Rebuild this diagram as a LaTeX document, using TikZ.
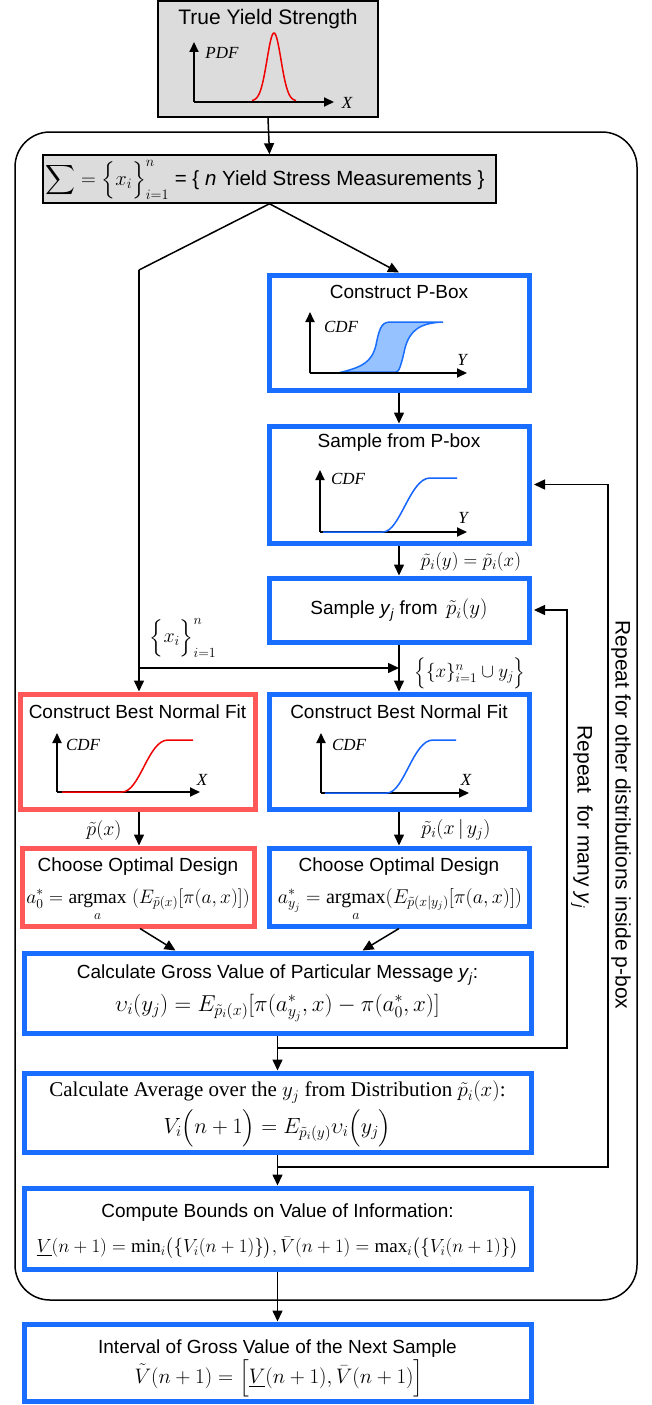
\RequirePackage{fix-cm}
\documentclass[tikz,border=0pt]{standalone}
\usepackage{amsmath}
\usepackage{fontspec}
\setmainfont{Liberation Sans}
\newfontfamily\tnr{Liberation Serif}
\newcommand{\tnop}[1]{\mathop{\text{\tnr #1}}}
\usetikzlibrary{arrows.meta}
\definecolor{bluebd}{RGB}{25,110,255}
\definecolor{redbd}{RGB}{255,88,88}
\definecolor{curvered}{RGB}{240,0,0}
\definecolor{curveblue}{RGB}{20,100,255}
\definecolor{grayfill}{RGB}{220,220,220}
\definecolor{pboxfill}{RGB}{150,195,255}
\begin{document}
\begin{tikzpicture}[x=1pt,y=-1pt,
  ln/.style={line width=1.5pt},
  arr/.style={ln,-{Triangle[length=11pt,width=10pt]}},
  axis/.style={line width=2pt,-{Triangle[length=10pt,width=9pt]}},
  graybox/.style={draw=black,line width=1.5pt,fill=grayfill,inner sep=0pt},
  bluebox/.style={draw=bluebd,line width=5pt,fill=white,inner sep=0pt},
  redbox/.style={draw=redbd,line width=5pt,fill=white,inner sep=0pt},
  ttl/.style={font=\fontsize{19}{22}\selectfont,inner sep=0pt},
  fml/.style={font=\fontsize{21}{25}\selectfont,inner sep=0pt},
  lbl/.style={font=\fontsize{19}{22}\selectfont,inner sep=0pt},
  axlbl/.style={font=\fontsize{17}{20}\selectfont\tnr\itshape,inner sep=0pt},
  rot/.style={font=\fontsize{21}{25}\selectfont,rotate=-90,inner sep=0pt}
]
\useasboundingbox (0,0) rectangle (651,1405);

% outer frame
\node[draw,ln,rounded corners=35pt,minimum width=622pt,minimum height=1168pt] (frame) at (326,716) {};

% boxes
\node[graybox,minimum width=220pt,minimum height=116pt] (top) at (268,59) {};
\node[graybox,minimum width=453pt,minimum height=48pt] (sigma) at (269.5,179) {};
\node[bluebox,minimum width=260pt,minimum height=115pt] (pbox) at (399,332.5) {};
\node[bluebox,minimum width=260pt,minimum height=117pt] (sampbox) at (399,484.5) {};
\node[bluebox,minimum width=260pt,minimum height=64pt] (yjbox) at (399,610) {};
\node[redbox,minimum width=235pt,minimum height=115pt] (fitL) at (137.5,751.5) {};
\node[bluebox,minimum width=260pt,minimum height=115pt] (fitR) at (399,751.5) {};
\node[redbox,minimum width=232pt,minimum height=78pt] (chooseL) at (138,887) {};
\node[bluebox,minimum width=260pt,minimum height=78pt] (chooseR) at (399,887) {};
\node[bluebox,minimum width=507pt,minimum height=80pt] (gross) at (277.5,993) {};
\node[bluebox,minimum width=507pt,minimum height=79pt] (avg) at (277.5,1112.5) {};
\node[bluebox,minimum width=507pt,minimum height=81pt] (bounds) at (277.5,1228.5) {};
\node[bluebox,minimum width=507pt,minimum height=77pt] (final) at (277.5,1362.5) {};

% top box content
\node[font=\fontsize{21}{25}\selectfont,inner sep=0pt] (ttop) at (268,19) {True Yield Strength};
\draw[axis] (194,102) -- (194,42);
\draw[axis] (194,102) -- (334,102);
\draw[curvered,line width=1.5pt] plot[domain=252:296,samples=60,smooth] (\x,{101-68*exp(-((\x-274)^2)/98)});
\node[axlbl] (pdf) at (222,53) {PDF};
\node[axlbl] (xt) at (347,103) {X};

% sigma text
\node[font=\fontsize{20.5}{24}\selectfont,inner sep=0pt] (tsig) at (265,180) {$\displaystyle\sum=\Bigl\{x_i\Bigr\}_{i=1}^{n}$ = \{ \textit{n} Yield Stress Measurements \}};

% p-box
\node[ttl] (tpbox) at (399,292) {Construct P-Box};
\filldraw[draw=bluebd,fill=pboxfill,line width=1.5pt] (342,372) .. controls (362,367) and (372,362) .. (376,345) .. controls (380,324) and (383,322) .. (392,322) -- (443,322) .. controls (420,323) and (410,330) .. (405,348) .. controls (401,366) and (399,372) .. (396,372) -- cycle;
\draw[axis] (310,373) -- (310,312);
\draw[axis] (310,373) -- (467,373);
\node[axlbl] (cdf1) at (341,327) {CDF};
\node[axlbl] (y1) at (462,360) {Y};

% sample from p-box
\node[ttl] (tsamp) at (399,443) {Sample from P-box};
\draw[axis] (320,532) -- (320,470);
\draw[axis] (320,532) -- (467,532);
\draw[curveblue,line width=1.5pt] (323,532) -- (383,532) .. controls (400,532) and (410,478) .. (430,478) -- (457,478);
\node[axlbl] (cdf2) at (348,479) {CDF};
\node[axlbl] (y2) at (463,518) {Y};

% sample y_j
\node[ttl] (tyj) at (399,610) {Sample \textit{y}\textsubscript{\textit{j}} from \,{\fontsize{21}{24}\selectfont$\tilde{p}_i(y)$}};

% fits
\node[ttl] (tfitL) at (137.5,712) {Construct Best Normal Fit};
\draw[axis] (57,792) -- (57,733);
\draw[axis] (57,792) -- (200,792);
\draw[curvered,line width=1.5pt] (62,792) -- (122,792) .. controls (140,792) and (148,740) .. (168,740) -- (193,740);
\node[axlbl] (cdf3) at (83,745) {CDF};
\node[axlbl] (x3) at (202,780) {X};

\node[ttl] (tfitR) at (399,712) {Construct Best Normal Fit};
\draw[axis] (321,793) -- (321,733);
\draw[axis] (321,793) -- (469,793);
\draw[curveblue,line width=1.5pt] (325,793) -- (387,793) .. controls (404,793) and (413,740) .. (433,740) -- (456,740);
\node[axlbl] (cdf4) at (349,745) {CDF};
\node[axlbl] (x4) at (466,780) {X};

% choose
\node[ttl] (tchL) at (138,867) {Choose Optimal Design};
\node[fml,font=\fontsize{19.5}{23}\selectfont,anchor=base] (fchL) at (138,903) {$a_0^*=\tnop{argmax}\limits_{a}\ (E_{\tilde{p}(x)}[\pi(a,x)])$};
\node[ttl] (tchR) at (399,867) {Choose Optimal Design};
\node[fml,font=\fontsize{20}{23}\selectfont,anchor=base] (fchR) at (400,903) {$a_{y_j}^*=\tnop{argmax}\limits_{a}(E_{\tilde{p}(x|y_j)}[\pi(a,x)])$};

% gross
\node[ttl] (tgross) at (277.5,975) {Calculate Gross Value of Particular Message \textit{y}\textsubscript{\textit{j}}:};
\node[fml,font=\fontsize{23}{27}\selectfont,anchor=base] (fgross) at (277.5,1011) {$\upsilon_i(y_j)=E_{\tilde{p}_i(x)}[\pi(a_{y_j}^*,x)-\pi(a_0^*,x)]$};

% average
\node[inner sep=0pt,font=\fontsize{21}{24}\selectfont\tnr] (tavg) at (277.5,1092) {Calculate Average over the $y_j$ from Distribution $\tilde{p}_i(x)$:};
\node[fml,font=\fontsize{22}{26}\selectfont] (favg) at (277.5,1128) {$V_i\Bigl(n+1\Bigr)=E_{\tilde{p}_i(y)}\upsilon_i\Bigl(y_j\Bigr)$};

% bounds
\node[ttl] (tbnd) at (277.5,1213) {Compute Bounds on Value of Information:};
\node[fml,font=\fontsize{19}{24}\selectfont] (fbnd) at (277.5,1248) {$\underline{V}(n+1)=\tnop{min}\nolimits_i\bigl(\{V_i(n+1)\}\bigr),\bar{V}(n+1)=\tnop{max}\nolimits_i\bigl(\{V_i(n+1)\}\bigr)$};

% final
\node[ttl] (tfin) at (277.5,1349) {Interval of Gross Value of the Next Sample};
\node[fml,font=\fontsize{21}{25}\selectfont] (ffin) at (279,1378) {$\tilde{V}(n+1)=\Bigl[\underline{V}(n+1),\bar{V}(n+1)\Bigr]$};

% labels
\node[lbl] (lab1) at (471,562) {$\tilde{p}_i(y)=\tilde{p}_i(x)$};
\node[lbl,font=\fontsize{20}{24}\selectfont] (lab2) at (183,638) {$\Bigl\{x_i\Bigr\}_{i=1}^{n}$};
\node[lbl] (lab3) at (470,673) {$\Bigl\{\{x\}_{i=1}^{n}\cup y_j\Bigr\}$};
\node[lbl,font=\fontsize{20}{24}\selectfont] (lab4) at (104,830) {$\tilde{p}(x)$};
\node[lbl,font=\fontsize{20}{24}\selectfont] (lab5) at (456,830) {$\tilde{p}_i(x\,|\,y_j)$};

% rotated texts
\node[rot] (rep1) at (621,815) {Repeat for other distributions inside p-box};
\node[rot] (rep2) at (582,817) {Repeat\ \ for many \textit{y}\textsubscript{\textit{j}}};

% coordinates
\coordinate (splitL) at (139,270);
\coordinate (merge) at (399,668);
\coordinate (j1) at (277.5,1048);
\coordinate (j2) at (277.5,1167);
\coordinate (lp1) at (567,610);
\coordinate (lp2) at (608,484.5);

% connectors
\draw[arr] (top.south) -- (sigma.north);
\draw[ln] (sigma.south) -- (splitL);
\draw[arr] (splitL) -- (splitL |- fitL.north);
\draw[arr] (sigma.south) -- (pbox.north);
\draw[arr] (pbox.south) -- (sampbox.north);
\draw[arr] (sampbox.south) -- (yjbox.north);
\draw[arr] (yjbox.south) -- (fitR.north);
\draw[arr] (splitL |- merge) -- (merge);
\draw[arr] (fitL.south -| splitL) -- (chooseL.north -| splitL);
\draw[arr] (fitR.south) -- (chooseR.north);
\draw[arr] ([xshift=2pt]chooseL.south) -- ([xshift=-102pt]gross.north);
\draw[arr] (chooseR.south) -- ([xshift=85pt]gross.north);
\draw[arr] (gross.south) -- (avg.north);
\draw[arr,shorten >=2.5pt] (j1) -| (lp1) -- (yjbox.east);
\draw[arr] (avg.south) -- (bounds.north);
\draw[arr,shorten >=2.5pt] (j2) -| (lp2) -- (sampbox.east);
\draw[arr] (bounds.south) -- (final.north);
\end{tikzpicture}
\end{document}
